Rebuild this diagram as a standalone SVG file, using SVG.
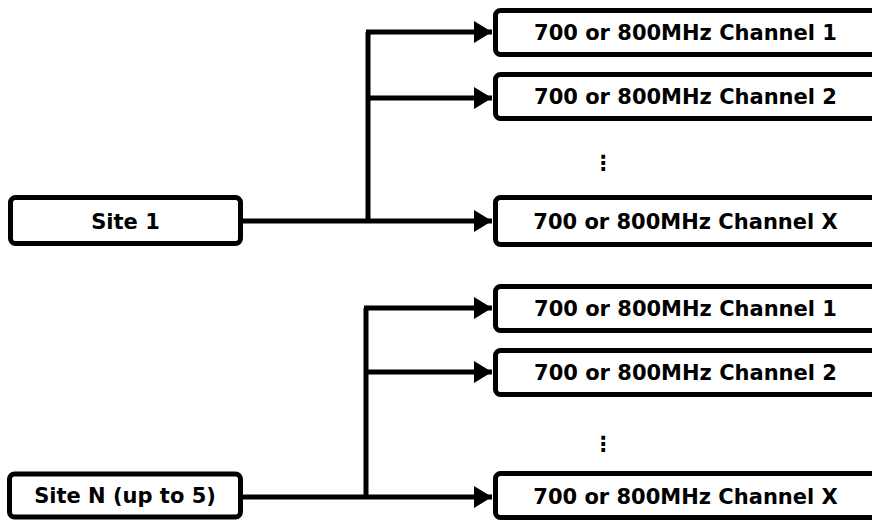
<svg xmlns="http://www.w3.org/2000/svg" width="872" height="521" viewBox="0 0 872 521">
<style>
.box{fill:#fff;stroke:#000;stroke-width:5}
.lbl{font-family:"DejaVu Sans",Verdana,sans-serif;font-weight:bold;font-size:21px;fill:#000;text-anchor:middle}
.ln{fill:none;stroke:#000;stroke-width:5}
</style>
<defs>
<marker id="ah" markerUnits="userSpaceOnUse" markerWidth="20" markerHeight="22" refX="18" refY="11" orient="auto">
<path d="M0,0 L18,11 L0,22 Z" fill="#000"/>
</marker>
</defs>
<rect width="872" height="521" fill="#fff"/>
<g id="connectors">
<path class="ln" d="M243,221 H368 M368,32 V221"/>
<path class="ln" d="M366,32 H492" marker-end="url(#ah)"/>
<path class="ln" d="M368,98 H492" marker-end="url(#ah)"/>
<path class="ln" d="M368,221 H492" marker-end="url(#ah)"/>
<path class="ln" d="M242,497 H366 M366,308 V497"/>
<path class="ln" d="M364,308 H492" marker-end="url(#ah)"/>
<path class="ln" d="M366,372 H492" marker-end="url(#ah)"/>
<path class="ln" d="M366,497 H492" marker-end="url(#ah)"/>
</g>
<g id="site1"><rect class="box" x="10.5" y="197.5" width="230" height="46" rx="5"/><text class="lbl" x="125.5" y="229">Site 1</text></g>
<g id="siteN"><rect class="box" x="9.5" y="474" width="231" height="43" rx="5"/><text class="lbl" x="125" y="503">Site N (up to 5)</text></g>
<g id="g1c1"><rect class="box" x="495.5" y="10.5" width="390" height="44" rx="5"/><text class="lbl" x="685.5" y="40">700 or 800MHz Channel 1</text></g>
<g id="g1c2"><rect class="box" x="495.5" y="74.5" width="390" height="44" rx="5"/><text class="lbl" x="685.5" y="104">700 or 800MHz Channel 2</text></g>
<g id="g1dots"><text class="lbl" x="603" y="170">⋮</text></g>
<g id="g1cx"><rect class="box" x="495.5" y="197.5" width="390" height="47" rx="5"/><text class="lbl" x="685.5" y="229">700 or 800MHz Channel X</text></g>
<g id="g2c1"><rect class="box" x="495.5" y="286.5" width="390" height="44" rx="5"/><text class="lbl" x="685.5" y="316">700 or 800MHz Channel 1</text></g>
<g id="g2c2"><rect class="box" x="495.5" y="350.5" width="390" height="44" rx="5"/><text class="lbl" x="685.5" y="380">700 or 800MHz Channel 2</text></g>
<g id="g2dots"><text class="lbl" x="603" y="451">⋮</text></g>
<g id="g2cx"><rect class="box" x="495.5" y="473.5" width="390" height="44" rx="5"/><text class="lbl" x="685.5" y="504">700 or 800MHz Channel X</text></g>
</svg>
